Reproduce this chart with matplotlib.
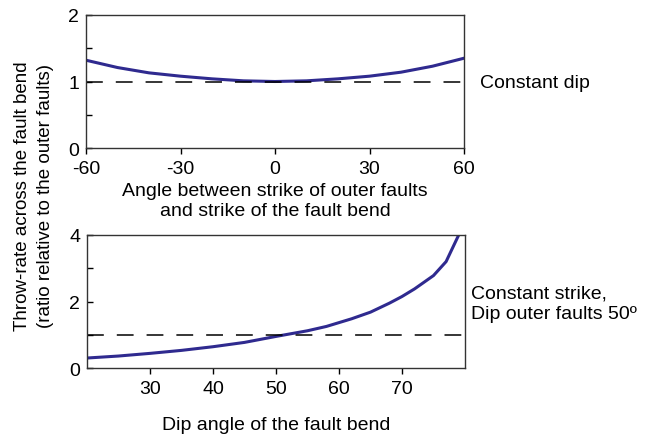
import matplotlib
matplotlib.use("Agg")
import matplotlib.pyplot as plt

plt.rcParams["font.family"] = ["Liberation Sans", "DejaVu Sans"]
plt.rcParams["axes.unicode_minus"] = False

# top panel: constant dip, angle between strikes
strike_angle = [-60, -50, -40, -30, -20, -10, 0, 10, 20, 30, 40, 50, 60]
strike_ratio = [1.32, 1.21, 1.13, 1.08, 1.04, 1.01, 1.0, 1.01, 1.04, 1.08, 1.14, 1.23, 1.35]

# bottom panel: constant strike, dip of the fault bend
dip_angle = [20, 25, 30, 35, 40, 45, 50, 55, 58, 62, 65, 68, 70, 72, 75, 77, 79]
dip_ratio = [0.30, 0.36, 0.44, 0.53, 0.64, 0.77, 0.95, 1.12, 1.25, 1.48, 1.68, 1.95, 2.15, 2.38, 2.78, 3.2, 4.0]

LINE = "#2f2a8f"
W, H = 647, 435
FS = 14

fig = plt.figure(figsize=(W / 100, H / 100), dpi=100)

def px_axes(x0, y0, x1, y1):
    return fig.add_axes([x0 / W, 1 - y1 / H, (x1 - x0) / W, (y1 - y0) / H])

def style(ax):
    for s in ax.spines.values():
        s.set_linewidth(1.0)
        s.set_color("#333333")
    ax.tick_params(which="both", labelsize=FS, width=1.0)
    ax.tick_params(axis="y", which="both", direction="in", length=4, pad=5)
    ax.tick_params(axis="x", direction="out", length=4, pad=5)

def ref_line(ax):
    # dashed reference at ratio 1, running just past the right spine
    ax.axhline(1.0, xmin=0, xmax=1.012, color="black", lw=1.1,
               dashes=(11, 8.5), clip_on=False)

ax1 = px_axes(86, 16, 464, 149)
ax1.plot(strike_angle, strike_ratio, color=LINE, lw=2.2)
ref_line(ax1)
ax1.set_xlim(-60, 60)
ax1.set_ylim(0, 2)
ax1.set_xticks([-60, -30, 0, 30, 60])
ax1.set_yticks([0, 1, 2])
ax1.set_yticks([0.5, 1.5], minor=True)
style(ax1)
ax1.set_xlabel("Angle between strike of outer faults\nand strike of the fault bend",
               fontsize=FS, labelpad=3, linespacing=1.25)

ax2 = px_axes(87, 236, 465, 369)
ax2.plot(dip_angle, dip_ratio, color=LINE, lw=2.2)
ref_line(ax2)
ax2.set_xlim(20, 80)
ax2.set_ylim(0, 4)
ax2.set_xticks([30, 40, 50, 60, 70])
ax2.set_yticks([0, 2, 4])
ax2.set_yticks([1, 3], minor=True)
style(ax2)
ax2.set_xlabel("Dip angle of the fault bend", fontsize=FS, labelpad=13)

fig.text(34 / W, 1 - 196 / H,
         "Throw-rate across the fault bend\n(ratio relative to the outer faults)",
         rotation=90, ha="center", va="center", fontsize=13.5, linespacing=1.4)

fig.text(480 / W, 1 - 83 / H, "Constant dip", fontsize=FS, va="center")
fig.text(471 / W, 1 - 304 / H, "Constant strike,\nDip outer faults 50º",
         fontsize=FS, va="center", linespacing=1.3)

fig.savefig("out.png", dpi=100)
